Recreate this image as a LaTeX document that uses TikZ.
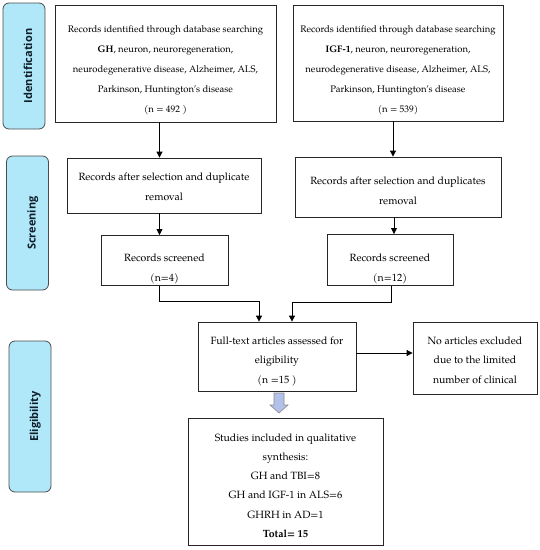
\documentclass[tikz,border=0pt]{standalone}
\usepackage{fontspec}
\setmainfont{TeX Gyre Pagella}
\newfontfamily\tabfont{Open Sans}
\usetikzlibrary{calc,arrows.meta}
\definecolor{tabcyan}{HTML}{B0E8FA}
\definecolor{tabtext}{HTML}{0E1E28}
\definecolor{blockfill}{HTML}{B3C0EA}
\newcommand\tsh[1]{\rule{0pt}{#1pt}}
\tikzset{
  box/.style={draw=black!85, line width=0.8pt, fill=white, align=center, inner sep=2pt,
    font=\fontsize{10.5}{20}\selectfont},
  bigbox/.style={box, font=\fontsize{9.5}{20}\selectfont},
  tab/.style={draw=black!70, line width=0.8pt, fill=tabcyan, rounded corners=6pt,
    rotate=90, minimum height=42pt, inner sep=0pt, text=tabtext,
    text height=18pt, text depth=2pt,
    font=\tabfont\bfseries\fontsize{11}{13}\selectfont},
  conn/.style={draw=black, line width=0.8pt, -{Triangle[length=6pt,width=6pt]}},
  blockarrow/.style={draw=black!45, line width=0.6pt, fill=blockfill}
}
\begin{document}
\begin{tikzpicture}[x=1pt,y=-1pt]
\useasboundingbox (0,0) rectangle (540,550);
% phase tabs
\node[tab, minimum width=126pt] (t1) at (24,66) {Identification};
\node[tab, minimum width=134pt] (t2) at (27.5,223) {Screening};
\node[tab, minimum width=151pt] (t3) at (30,416.5) {Eligibility};
% boxes
\node[bigbox, minimum width=221pt, minimum height=117pt] (b1) at (165.5,63.5)
  {\tsh{19.8}Records identified through database searching\\ \textbf{GH}, neuron, neuroregeneration,\\
   neurodegenerative disease, Alzheimer, ALS,\\ Parkinson, Huntington's disease\\ (n = 492 )};
\node[bigbox, minimum width=210pt, minimum height=116pt] (b2) at (398,63)
  {\tsh{20.8}Records identified through database searching\\ \textbf{IGF-1}, neuron, neuroregeneration,\\
   neurodegenerative disease, Alzheimer, ALS,\\ Parkinson, Huntington's disease\\ (n = 539)};
\node[box, minimum width=194pt, minimum height=55pt] (b3) at (164,185.5)
  {\tsh{9.6}Records after selection and duplicate\\ removal};
\node[box, minimum width=206pt, minimum height=60pt] (b4) at (398,187)
  {\tsh{15}Records after selection and duplicates\\ removal};
\node[box, minimum width=127pt, minimum height=47pt] (b5) at (164.5,260.5)
  {\tsh{23.6}Records screened\\ (n=4)};
\node[box, minimum width=126pt, minimum height=46pt] (b6) at (390,260)
  {\tsh{24.6}Records screened\\ (n=12)};
\node[box, minimum width=158pt, minimum height=69pt, font=\fontsize{10.5}{19.5}\selectfont] (b7) at (277,356.5)
  {\tsh{16.6}Full-text articles assessed for\\ eligibility\\ (n =15 )};
\node[box, minimum width=124pt, minimum height=72pt, font=\fontsize{10.5}{19.5}\selectfont] (b8) at (475,358)
  {\tsh{11.6}No articles excluded\\ due to the limited\\ number of clinical};
\node[box, minimum width=195pt, minimum height=127pt, font=\fontsize{10.5}{19.1}\selectfont] (b9) at (285.5,481.5)
  {\tsh{16}Studies included in qualitative\\ synthesis:\\ GH and TBI=8\\ GH and IGF-1 in ALS=6\\
   GHRH in AD=1\\ \textbf{Total= 15}};
% helper coordinates
\coordinate (lx) at (159.5,0);
\coordinate (rx1) at (393,0);
\coordinate (rx2) at (394,0);
\coordinate (rx3) at (391,0);
\coordinate (jl) at (259,0);
\coordinate (jr) at (292,0);
\coordinate (ay) at (0,353);
\coordinate (ba) at (279,393);
% connectors
\draw[conn] (b1.south -| lx) -- (b3.north -| lx);
\draw[conn] (b3.south -| lx) -- (b5.north -| lx);
\draw[conn] (b2.south -| rx1) -- (b4.north -| rx1);
\draw[conn] (b4.south -| rx2) -- (b6.north -| rx2);
\draw[conn] (b5.south -| lx) -- ++(0,15) -| (b7.north -| jl);
\draw[conn] (b6.south -| rx3) -- ++(0,16) -| (b7.north -| jr);
\draw[conn] (b7.east |- ay) -- (b8.west |- ay);
% block arrow
\draw[blockarrow] ($(ba)+(-5,0)$) -- ($(ba)+(5,0)$) -- ($(ba)+(5,12)$) -- ($(ba)+(9,12)$)
  -- ($(ba)+(0,20)$) -- ($(ba)+(-9,12)$) -- ($(ba)+(-5,12)$) -- cycle;
\end{tikzpicture}
\end{document}
